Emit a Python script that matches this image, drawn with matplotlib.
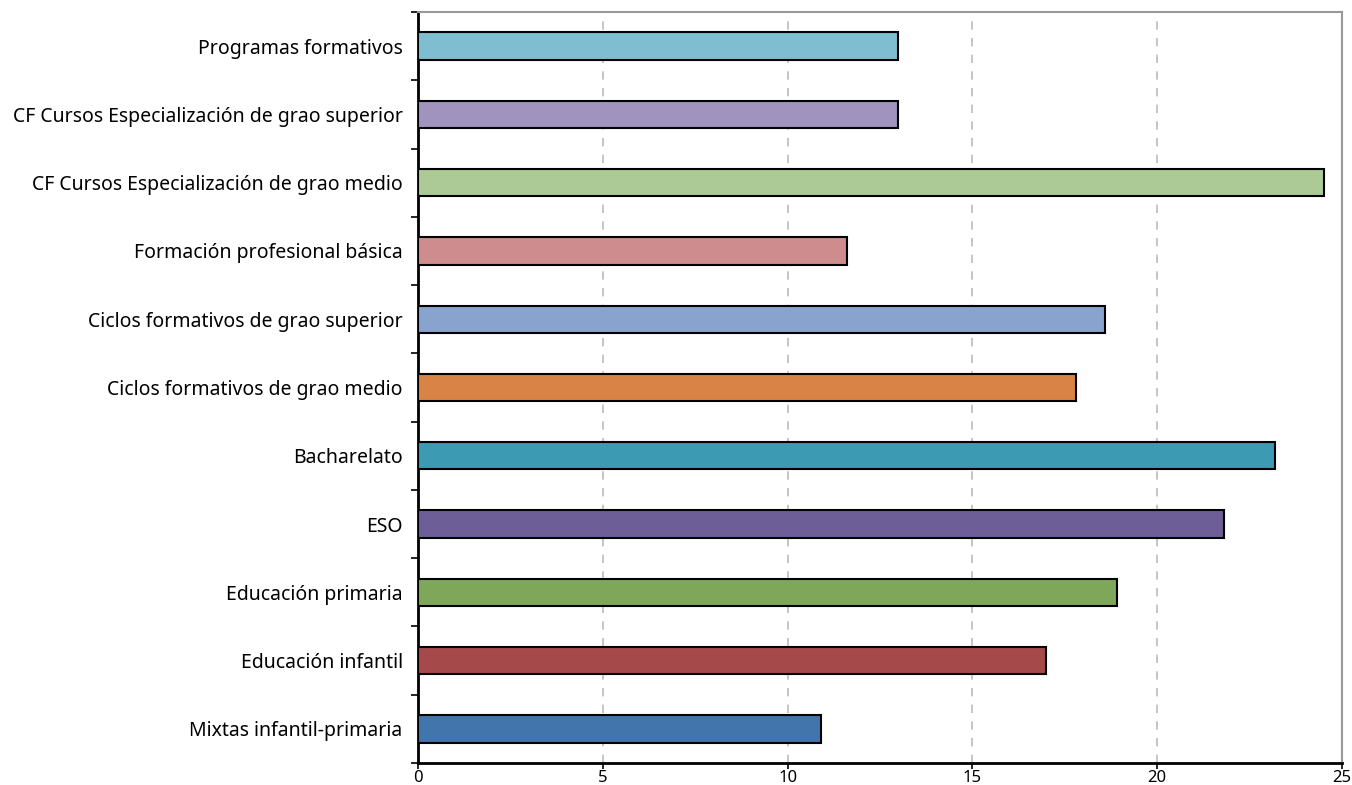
import matplotlib.pyplot as plt
import numpy as np

# Data (bottom to top)
categories = ['Mixtas infantil-primaria', 'Educación infantil', 'Educación primaria', 'ESO',
              'Bacharelato', 'Ciclos formativos de grao medio', 'Ciclos formativos de grao superior',
              'Formación profesional básica', 'CF Cursos Especialización de grao medio',
              'CF Cursos Especialización de grao superior', 'Programas formativos']
values = [10.9, 17.0, 18.9, 21.8, 23.2, 17.8, 18.6, 11.6, 24.5, 13.0, 13.0]
colors = ['#4275AB', '#A6494B', '#7FA75A', '#6E5E98', '#3D9AB3', '#D98347',
          '#87A3CE', '#CE8C8E', '#ABCA96', '#A093BD', '#7FBDD0']
xticks = [0, 5, 10, 15, 20, 25]

plt.rcParams['font.family'] = ['Noto Sans', 'DejaVu Sans']

fig = plt.figure(figsize=(13.52, 7.85), dpi=100)
ax = fig.add_axes([418/1352, 1 - 763/785, (1342 - 418)/1352, (763 - 12)/785])

y = np.arange(len(categories))
ax.barh(y, values, height=0.4, color=colors, edgecolor='black', linewidth=1.5, zorder=3)

ax.set_xlim(0, 25)
ax.set_ylim(-0.5, len(categories) - 0.5)
ax.set_xticks(xticks)
ax.set_xticklabels([str(t) for t in xticks], fontsize=12)
ax.set_yticks(y)
ax.set_yticklabels(categories, fontsize=14)
ax.tick_params(axis='y', length=0, pad=11)
ax.set_yticks(np.arange(-0.5, len(categories), 1), minor=True)
ax.tick_params(axis='y', which='minor', length=5, width=1.2, color='black')
ax.tick_params(axis='x', length=4, width=1.2, pad=1)

ax.grid(axis='x', linestyle=(0, (5, 5)), color='#BBBBBB', linewidth=1.2, zorder=0)

ax.spines['left'].set_color('black')
ax.spines['left'].set_linewidth(2)
ax.spines['bottom'].set_color('black')
ax.spines['bottom'].set_linewidth(2)
ax.spines['top'].set_color('#999999')
ax.spines['top'].set_linewidth(1.5)
ax.spines['right'].set_color('#999999')
ax.spines['right'].set_linewidth(1.5)

plt.savefig('out.png', dpi=100)
